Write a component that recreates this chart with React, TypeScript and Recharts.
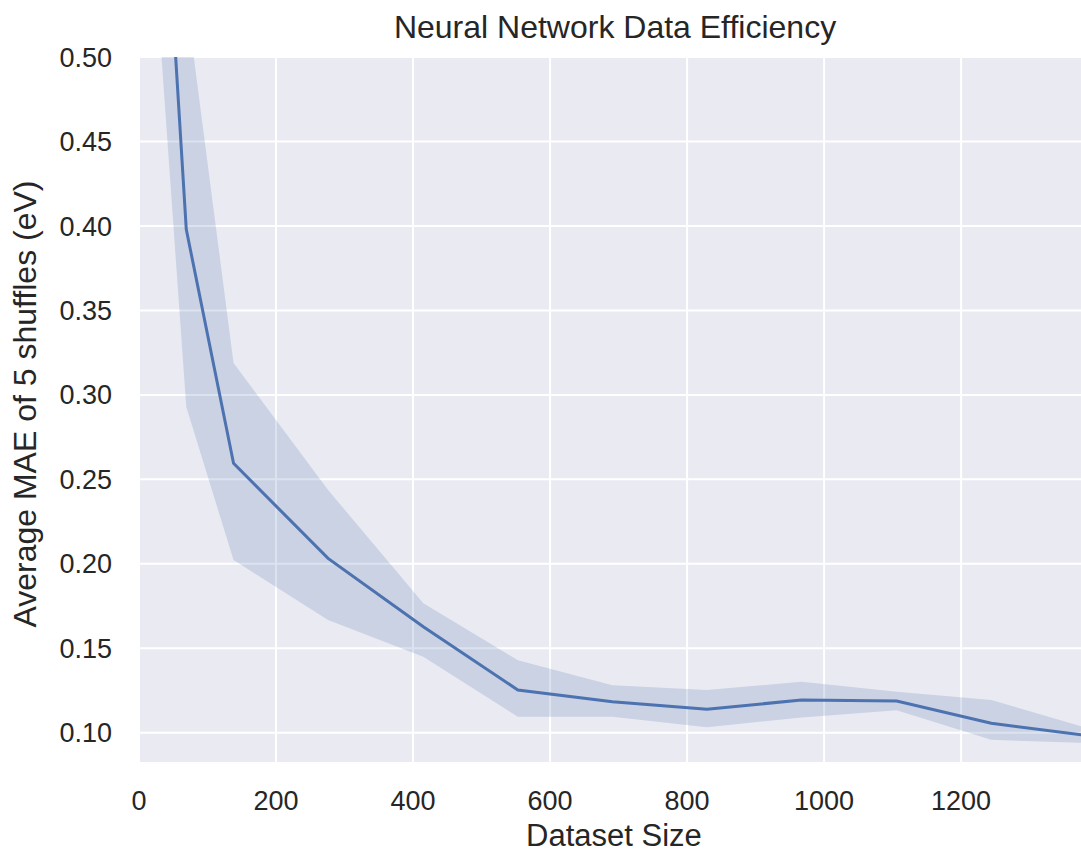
import { ComposedChart, Area, Line, XAxis, YAxis, CartesianGrid } from 'recharts';

// dataset sizes (fractions of the full set) and MAE averaged over 5 shuffles
const sizes = [14, 69, 138, 276, 415, 553, 691, 829, 967, 1106, 1244, 1382];
const mae = [0.76, 0.398, 0.2595, 0.2032, 0.1628, 0.1253, 0.1184, 0.1139, 0.1194, 0.1188, 0.1056, 0.0985];
const lower = [0.608, 0.293, 0.2022, 0.1667, 0.145, 0.1095, 0.1095, 0.1032, 0.1091, 0.1134, 0.0958, 0.094];
const upper = [0.91, 0.534, 0.3189, 0.2437, 0.1766, 0.143, 0.1282, 0.1253, 0.1302, 0.1243, 0.1194, 0.103];

const xTicks = [0, 200, 400, 600, 800, 1000, 1200];
const yTicks = [0.1, 0.15, 0.2, 0.25, 0.3, 0.35, 0.4, 0.45, 0.5];

const data = sizes.map((s, i) => ({ size: s, mae: mae[i], band: [lower[i], upper[i]] }));

const BLUE = '#4C72B0';
const TEXT = '#262626';
const FONT = '"Liberation Sans", Arial, sans-serif';

export default function App() {
  return (
    <div style={{ position: 'absolute', left: 0, top: 0, width: 1081, height: 855, fontFamily: FONT, background: '#fff' }}>
      <div
        style={{
          position: 'absolute', left: 315, top: 8, width: 600, textAlign: 'center',
          fontSize: 32, lineHeight: '38px', color: TEXT, whiteSpace: 'nowrap',
        }}
      >
        Neural Network Data Efficiency
      </div>
      <ComposedChart width={1081} height={855} data={data} margin={{ top: 57, right: 0, bottom: 0, left: 0 }}>
        <CartesianGrid fill="#EAEAF2" fillOpacity={1} stroke="#ffffff" strokeWidth={2} horizontalValues={yTicks} verticalValues={xTicks} />
        <XAxis
          dataKey="size"
          type="number"
          domain={[0, 1375]}
          allowDataOverflow
          ticks={xTicks}
          height={93}
          axisLine={false}
          tickLine={false}
          tickSize={0}
          tickMargin={29}
          tick={{ fill: TEXT, fontSize: 27, fontFamily: FONT }}
        />
        <YAxis
          type="number"
          domain={[0.0827, 0.5]}
          allowDataOverflow
          ticks={yTicks}
          width={139}
          axisLine={false}
          tickLine={false}
          tickSize={0}
          tickMargin={27}
          tickFormatter={(v: number) => v.toFixed(2)}
          tick={{ fill: TEXT, fontSize: 27, fontFamily: FONT }}
        />
        <Area
          dataKey="band"
          type="linear"
          fill={BLUE}
          fillOpacity={0.2}
          stroke="none"
          isAnimationActive={false}
          activeDot={false}
        />
        <Line
          dataKey="mae"
          type="linear"
          stroke={BLUE}
          strokeWidth={3}
          dot={false}
          activeDot={false}
          isAnimationActive={false}
        />
      </ComposedChart>
      <div
        style={{
          position: 'absolute', left: 314, top: 817, width: 600, textAlign: 'center',
          fontSize: 31, lineHeight: '37px', color: TEXT, whiteSpace: 'nowrap',
        }}
      >
        Dataset Size
      </div>
      <div
        style={{
          position: 'absolute', left: 25 - 250, top: 404 - 19, width: 500, height: 38,
          textAlign: 'center', fontSize: 32, lineHeight: '38px', color: TEXT,
          transform: 'rotate(-90deg)', whiteSpace: 'nowrap',
        }}
      >
        Average MAE of 5 shuffles (eV)
      </div>
    </div>
  );
}
